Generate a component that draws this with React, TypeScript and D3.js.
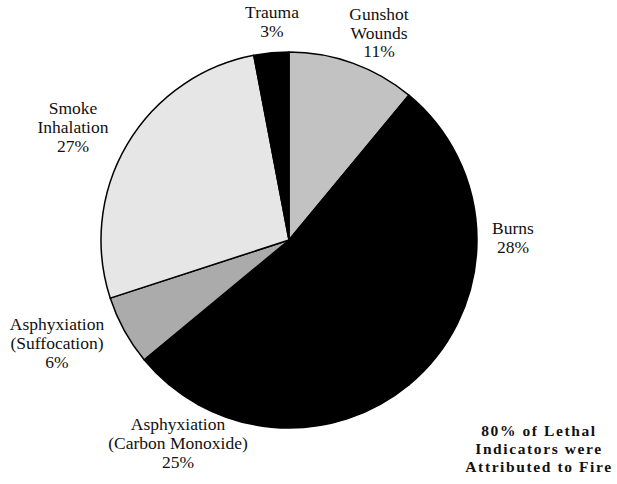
import React from "react";
import * as d3 from "d3";

const categories = [
  "Gunshot Wounds",
  "Burns",
  "Asphyxiation (Carbon Monoxide)",
  "Asphyxiation (Suffocation)",
  "Smoke Inhalation",
  "Trauma",
];
const values = [11, 28, 25, 6, 27, 3];
const labelLines = [
  ["Gunshot", "Wounds"],
  ["Burns"],
  ["Asphyxiation", "(Carbon Monoxide)"],
  ["Asphyxiation", "(Suffocation)"],
  ["Smoke", "Inhalation"],
  ["Trauma"],
];
const noteLines = ["80% of Lethal", "Indicators were", "Attributed to Fire"];

// styling / layout (not data)
const fills = ["#c2c2c2", "#000000", "#000000", "#ababab", "#e6e6e6", "#000000"];
const labelPos = [
  { x: 379, y: 20, lh: 18.5 },
  { x: 513, y: 234, lh: 19 },
  { x: 178, y: 430, lh: 19 },
  { x: 57, y: 330, lh: 19 },
  { x: 73, y: 114, lh: 19 },
  { x: 272, y: 18, lh: 19 },
];

const W = 617;
const H = 484;
const cx = 289;
const cy = 240;
const R = 188;
const FONT = "'Liberation Serif', 'Times New Roman', serif";

export default function App() {
  const pie = d3.pie<number>().sort(null).value((d) => d)(values);
  const arc = d3.arc<d3.PieArcDatum<number>>().innerRadius(0).outerRadius(R);

  return (
    <svg width={W} height={H} style={{ position: "absolute", left: 0, top: 0, background: "#fff" }}>
      <rect width={W} height={H} fill="#fff" />
      <g transform={`translate(${cx},${cy})`}>
        {pie.map((p, i) => (
          <path
            key={categories[i]}
            d={arc(p) || ""}
            fill={fills[i]}
            stroke="#000"
            strokeWidth={1.5}
            strokeLinejoin="round"
          />
        ))}
      </g>
      {labelLines.map((lines, i) => {
        const pos = labelPos[i];
        const all = [...lines, `${values[i]}%`];
        return (
          <text
            key={categories[i]}
            x={pos.x}
            y={pos.y}
            textAnchor="middle"
            fontFamily={FONT}
            fontSize={17.5}
            fill="#111"
          >
            {all.map((t, j) => (
              <tspan key={j} x={pos.x} y={pos.y + j * pos.lh}>
                {t}
              </tspan>
            ))}
          </text>
        );
      })}
      <text
        textAnchor="middle"
        fontFamily={FONT}
        fontSize={15.5}
        fontWeight="bold"
        letterSpacing={1.6}
        fill="#111"
      >
        {noteLines.map((t, j) => (
          <tspan key={j} x={539} y={436 + j * 18}>
            {t}
          </tspan>
        ))}
      </text>
    </svg>
  );
}
